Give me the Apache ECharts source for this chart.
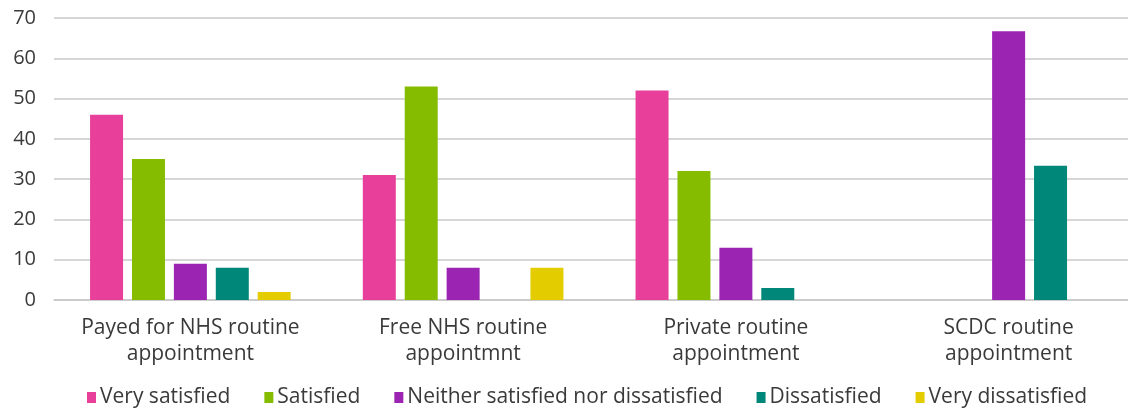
<!DOCTYPE html>
<html><head><meta charset="utf-8">
<script src="https://cdn.jsdelivr.net/npm/echarts@6/dist/echarts.min.js"></script>
<style>html,body{margin:0;padding:0;background:#fff}#c{width:1128px;height:408px}</style>
</head><body><div id="c"></div>
<script>
const categories = ["Payed for NHS routine\nappointment", "Free NHS routine\nappointmnt", "Private routine\nappointment", "SCDC routine\nappointment"];
const seriesNames = ["Very satisfied", "Satisfied", "Neither satisfied nor dissatisfied", "Dissatisfied", "Very dissatisfied"];
const verySatisfied = [46, 31, 52, 0];
const satisfied = [35, 53, 32, 0];
const neither = [9, 8, 13, 66.7];
const dissatisfied = [8, 0, 3, 33.3];
const veryDissatisfied = [2, 8, 0, 0];
const colors = ["#E8409A", "#86BC00", "#9B24B3", "#00877A", "#E3CD00"];
const values = [verySatisfied, satisfied, neither, dissatisfied, veryDissatisfied];
const font = "'Open Sans', sans-serif";
const chart = echarts.init(document.getElementById('c'));
chart.setOption({
  animation: false,
  color: colors,
  grid: {left: 54, top: 18, right: -17, height: 282, containLabel: false, outerBoundsMode: 'none'},
  legend: {
    top: 382, left: 82, itemWidth: 9, itemHeight: 11, itemGap: 34,
    icon: 'rect',
    textStyle: {fontFamily: font, fontSize: 21, color: '#3a3a3a', padding: [0,0,0,-1]},
    data: seriesNames
  },
  xAxis: {
    type: 'category', data: categories,
    axisLine: {lineStyle: {color: '#c8c8c8', width: 1.5}},
    axisTick: {show: false},
    axisLabel: {fontFamily: font, fontSize: 21, color: '#3a3a3a', lineHeight: 26, margin: 15, interval: 0}
  },
  yAxis: {
    type: 'value', min: 0, max: 70, interval: 10,
    axisLine: {show: false}, axisTick: {show: false},
    splitLine: {lineStyle: {color: '#c8c8c8', width: 1.5}},
    axisLabel: {fontFamily: font, fontSize: 20, color: '#3a3a3a', margin: 18}
  },
  series: seriesNames.map((n, i) => ({
    name: n, type: 'bar', data: values[i], barWidth: 33, barGap: '27%',
    itemStyle: {color: colors[i]}
  }))
});
</script></body></html>
